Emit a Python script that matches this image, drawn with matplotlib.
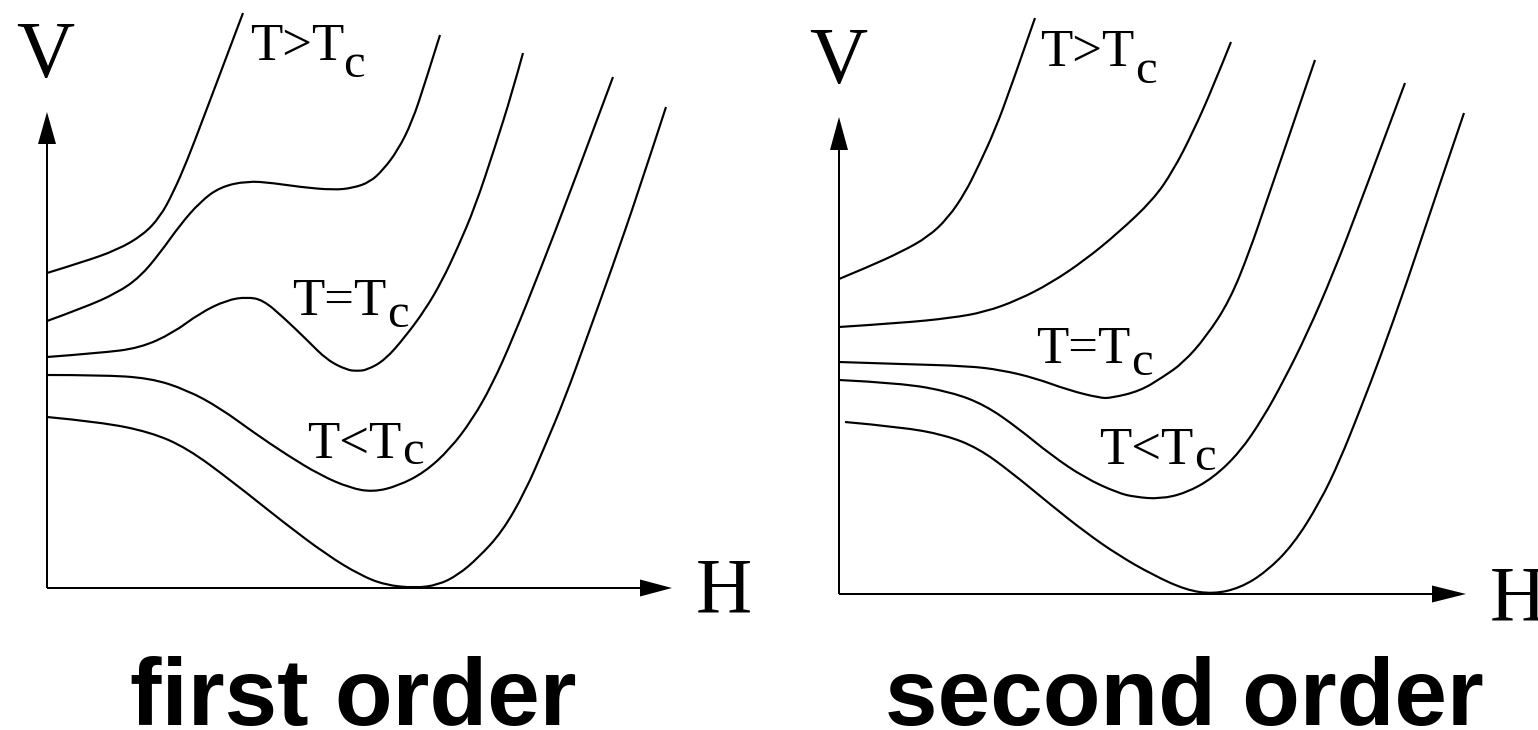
import matplotlib.pyplot as plt
from matplotlib.path import Path
from matplotlib.patches import PathPatch

# Potential V(H) for five temperatures, top curve hottest. Units are arbitrary (~pixels).
first_A_H = [0, 36, 70, 96, 113, 126, 140, 156, 173, 196]
first_A_V = [315, 326, 338, 353, 371, 395, 427, 469, 514, 575]

first_B_H = [0, 36, 70, 93, 113, 133, 153, 173, 200, 226, 253, 286, 306, 323, 336, 351, 365, 378, 393]
first_B_V = [267, 280, 295, 311, 335, 363, 386, 401, 407, 405, 401, 398, 400, 406, 418, 438, 466, 505, 553]

first_C_H = [0, 53, 93, 126, 153, 180, 200, 216, 236, 260, 280, 300, 310, 320, 338, 358, 378, 395, 411, 428,
             448, 465, 476]
first_C_V = [231, 235, 240, 255, 275, 288, 291, 288, 271, 248, 228, 218, 217, 218, 228, 251, 278, 307, 341, 381,
             441, 495, 535]

first_D_H = [0, 53, 103, 140, 173, 206, 240, 273, 303, 326, 351, 378, 403, 425, 445, 466, 494, 524, 566]
first_D_V = [213, 213, 210, 198, 180, 156, 133, 113, 100, 96, 102, 116, 139, 168, 203, 250, 320, 398, 511]

first_E_H = [0, 53, 103, 140, 186, 236, 280, 313, 338, 368, 391, 411, 431, 455, 478, 498, 518, 538, 565, 591, 619]
first_E_V = [171, 166, 156, 140, 106, 66, 33, 13, 3, 0, 3, 13, 30, 56, 96, 142, 190, 245, 320, 395, 481]

second_A_H = [0, 29, 62, 89, 109, 126, 139, 156, 172, 196]
second_A_V = [315, 327, 342, 357, 376, 401, 427, 464, 507, 576]

second_B_H = [0, 62, 112, 146, 179, 212, 246, 279, 314, 334, 354, 374, 392]
second_B_V = [267, 271, 276, 282, 294, 311, 334, 361, 394, 423, 462, 507, 552]

second_C_H = [0, 61, 129, 162, 196, 229, 261, 272, 301, 324, 344, 367, 391, 411, 427, 447, 464, 476]
second_C_V = [232, 230, 228, 224, 216, 204, 196, 196, 203, 217, 231, 257, 294, 344, 391, 449, 499, 534]

second_D_H = [0, 62, 112, 146, 179, 212, 246, 279, 296, 321, 347, 374, 401, 424, 444, 468, 494, 521, 566]
second_D_V = [214, 211, 202, 189, 166, 139, 116, 101, 97, 95, 101, 116, 142, 176, 212, 260, 320, 390, 511]

second_E_H = [6, 62, 106, 139, 172, 212, 246, 279, 314, 347, 374, 401, 427, 454, 481, 501, 521, 541, 567, 594, 625]
second_E_V = [172, 167, 159, 146, 122, 89, 62, 39, 19, 4, 0, 6, 22, 49, 92, 134, 184, 236, 309, 390, 481]

first_curves = [(first_A_H, first_A_V), (first_B_H, first_B_V), (first_C_H, first_C_V),
                (first_D_H, first_D_V), (first_E_H, first_E_V)]
second_curves = [(second_A_H, second_A_V), (second_B_H, second_B_V), (second_C_H, second_C_V),
                 (second_D_H, second_D_V), (second_E_H, second_E_V)]

SERIF = 'Liberation Serif'
SANS = 'Liberation Sans'

W, Hpx = 1538, 730
fig = plt.figure(figsize=(W / 100, Hpx / 100), dpi=100)


def make_panel(left_px, x0, y0):
    # axes of 769 px, 1 data unit == 1 pixel, origin of the sketch at (x0, y0) from top-left
    ax = fig.add_axes([left_px / W, 0, 769 / W, 1])
    ax.set_xlim(left_px - x0, left_px + 769 - x0)
    ax.set_ylim(y0 - Hpx, y0)
    ax.axis('off')
    return ax


def smooth_path(h, v):
    # quadratic bezier through midpoints, sample points act as control points
    pts = list(zip(h, v))
    verts = [pts[0]]
    codes = [Path.MOVETO]
    for i in range(1, len(pts) - 1):
        nxt = ((pts[i][0] + pts[i + 1][0]) / 2, (pts[i][1] + pts[i + 1][1]) / 2)
        if i == len(pts) - 2:
            nxt = pts[-1]
        verts += [pts[i], nxt]
        codes += [Path.CURVE3, Path.CURVE3]
    return Path(verts, codes)


def draw_panel(ax, curves, h_tip, v_tip, h_head, v_head):
    ax.arrow(0, 0, h_tip, 0, width=2, head_width=17, head_length=h_head,
             length_includes_head=True, color='black', lw=0)
    ax.arrow(0, 0, 0, v_tip, width=2, head_width=18, head_length=v_head,
             length_includes_head=True, color='black', lw=0)
    for h, v in curves:
        ax.add_patch(PathPatch(smooth_path(h, v), fill=False, edgecolor='black', lw=1.55,
                               capstyle='butt', joinstyle='round'))


def temp_label(ax, h, v, sym, ch, cv):
    ax.text(h, v, 'T' + sym + 'T', fontsize=38, family=SERIF, va='baseline', ha='left')
    ax.text(ch, cv, 'c', fontsize=35, family=SERIF, va='baseline', ha='left')


left = make_panel(0, 47, 588)
draw_panel(left, first_curves, 625, 476, 32, 32)
left.text(-2, 511, 'V', fontsize=58, family=SERIF, ha='center', va='baseline')
left.text(677, -24, 'H', fontsize=56, family=SERIF, ha='center', va='baseline')
temp_label(left, 203, 528, '>', 296, 511)
temp_label(left, 245, 273, '=', 340, 261)
temp_label(left, 260, 130, '<', 355, 124)
left.text(306, -137, 'first order', fontsize=68, family=SANS, fontweight='bold',
          ha='center', va='baseline')

right = make_panel(769, 839, 594)
draw_panel(right, second_curves, 627, 477, 34, 33)
right.text(-1, 511, 'V', fontsize=58, family=SERIF, ha='center', va='baseline')
right.text(651, -25, 'H', fontsize=56, family=SERIF, ha='left', va='baseline')
temp_label(right, 201, 528, '>', 296, 511)
temp_label(right, 197, 231, '=', 292, 219)
temp_label(right, 260, 130, '<', 355, 124)
right.text(345, -131, 'second order', fontsize=68, family=SANS, fontweight='bold',
           ha='center', va='baseline')

fig.savefig('out.png', dpi=100, facecolor='white')
